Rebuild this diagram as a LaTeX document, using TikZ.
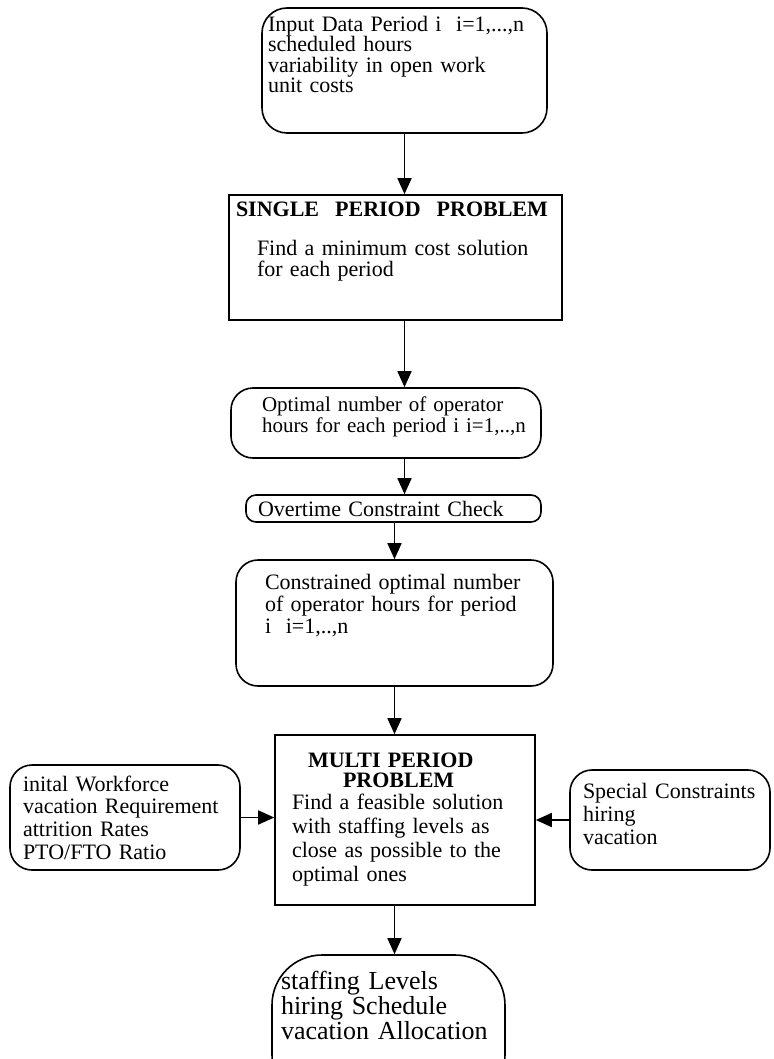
\documentclass[tikz,border=0pt]{standalone}
\usepackage{fontspec}
\setmainfont{Liberation Serif}
\usetikzlibrary{arrows.meta}

\begin{document}
\begin{tikzpicture}[x=1pt, y=-1pt,
    box/.style={draw, line width=1.6pt, align=left, inner ysep=0pt, font=\fontsize{22}{20.5}\selectfont},
    rbox/.style={box, rounded corners=22pt},
    flow/.style={-{Triangle[length=16pt,width=14pt]}, line width=1.7pt}]

    \useasboundingbox (0,0) rectangle (773,1059);
    \clip (0,0) rectangle (773,1059);

    \node[rbox, rounded corners=25pt, minimum width=285pt, minimum height=125pt, text width=273pt, inner xsep=6pt] (inp) at (404.5,70.5) {Input Data Period i\ \ i=1,...,n\\scheduled hours\\variability in open work\\unit costs\rule[-32pt]{0pt}{32pt}};

    \node[box, minimum width=333pt, minimum height=125pt, text width=319pt, inner xsep=7pt] (single) at (395.5,257.5) {\mbox{\textbf{SINGLE\hspace{16pt}PERIOD\hspace{16pt}PROBLEM}}\\[18.5pt]\hspace*{21pt}Find a minimum cost solution\\\hspace*{21pt}for each period\rule[-37pt]{0pt}{37pt}};

    \node[rbox, font=\fontsize{21}{21}\selectfont, minimum width=310pt, minimum height=70pt, text width=296pt, inner xsep=7pt] (opt) at (386,423) {\hspace*{24pt}\mbox{Optimal number of operator}\\\hspace*{24pt}\mbox{hours for each period i i=1,..,n}\rule[-16pt]{0pt}{16pt}};

    \node[rbox, rounded corners=10pt, minimum width=295pt, minimum height=27pt, text width=271pt, inner xsep=12pt] (over) at (393.5,508.5) {Overtime Constraint Check};

    \node[rbox, font=\fontsize{22}{22}\selectfont, minimum width=317pt, minimum height=126pt, text width=259pt, inner xsep=29pt] (cons) at (394.5,623) {Constrained optimal number\\of operator hours for period\\i\ \ i=1,..,n\rule[-39pt]{0pt}{39pt}};

    \node[box, font=\fontsize{22}{24}\selectfont, minimum width=260pt, minimum height=170pt, text width=226pt, inner xsep=17pt] (multi) at (405,820) {\hspace*{16pt}\textbf{MULTI PERIOD}\\[-4pt]\hspace*{51pt}\textbf{PROBLEM}\\[-2pt]Find a feasible solution\\with staffing levels as\\close as possible to the\\optimal ones};

    \node[rbox, font=\fontsize{22}{22.7}\selectfont, minimum width=230pt, minimum height=105pt, text width=204pt, inner xsep=13pt] (init) at (125,817.5) {inital Workforce\\vacation Requirement\\attrition Rates\\PTO/FTO Ratio};

    \node[rbox, font=\fontsize{22}{23}\selectfont, minimum width=200pt, minimum height=100pt, text width=174pt, inner xsep=13pt] (spec) at (670,820) {Special Constraints\\hiring\\vacation\rule[-13pt]{0pt}{13pt}};

    \node[rbox, rounded corners=50pt, font=\fontsize{26}{25}\selectfont, minimum width=233pt, minimum height=150pt, text width=215pt, inner xsep=9pt] (out) at (388.5,1030) {staffing Levels\\hiring Schedule\\vacation Allocation\rule[-49pt]{0pt}{49pt}};

    \draw[flow] (inp.south) -- (inp.south |- single.north);
    \draw[flow] (inp.south |- single.south) -- (inp.south |- opt.north);
    \draw[flow] (inp.south |- opt.south) -- (inp.south |- over.north);
    \draw[flow] (cons.north |- over.south) -- (cons.north);
    \draw[flow] (cons.south) -- (cons.south |- multi.north);
    \draw[flow] (init.east) -- (init.east -| multi.west);
    \draw[flow] (spec.west) -- (spec.west -| multi.east);
    \draw[flow] (cons.south |- multi.south) -- (cons.south |- out.north);

\end{tikzpicture}
\end{document}
